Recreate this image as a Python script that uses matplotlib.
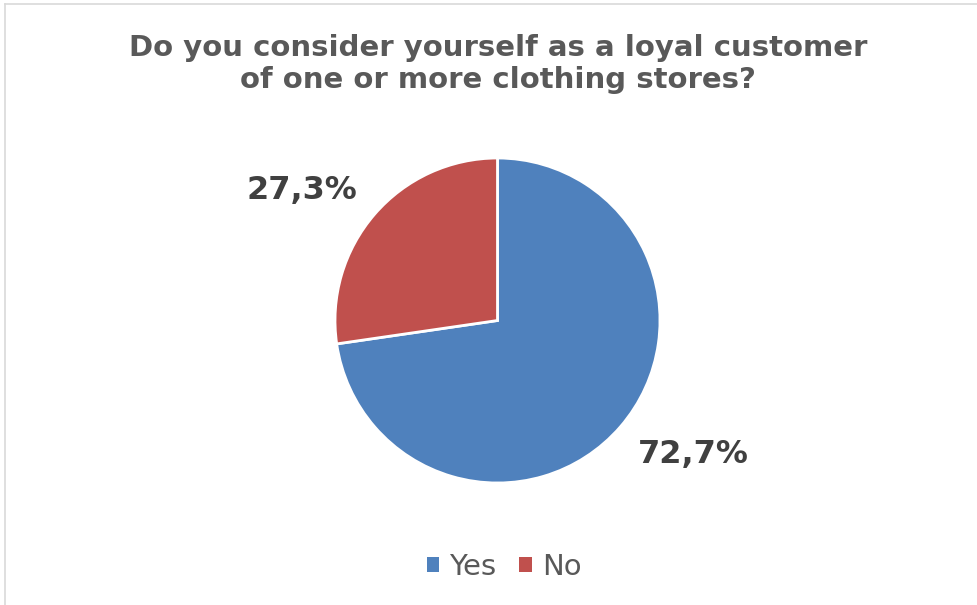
import matplotlib.pyplot as plt
from matplotlib.lines import Line2D
from matplotlib.patches import Patch

labels = ['Yes', 'No']
values = [72.7, 27.3]
colors = ['#4F81BD', '#C0504D']
pct_text = ['72,7%', '27,3%']

W, H = 978, 605
fig = plt.figure(figsize=(W / 100, H / 100), dpi=100)
fig.patch.set_facecolor('white')

# chart border (only top and left visible in the reference)
fig.add_artist(Line2D([5 / W, 1], [1 - 4 / H, 1 - 4 / H], color='#D9D9D9', lw=1.2))
fig.add_artist(Line2D([5 / W, 5 / W], [0, 1 - 4 / H], color='#D9D9D9', lw=1.2))

cx, cy, r = 497.5, 320.5, 162.5
ax = fig.add_axes([(cx - r) / W, (H - cy - r) / H, 2 * r / W, 2 * r / H])
wedges, _ = ax.pie(values, colors=colors, startangle=90, counterclock=False,
                   radius=1, wedgeprops=dict(edgecolor='white', linewidth=2))
ax.set_xlim(-1, 1)
ax.set_ylim(-1, 1)
ax.set_aspect('equal')

# data labels
fig.text(693 / W, 1 - 454 / H, pct_text[0], ha='center', va='center',
         fontsize=23, fontweight='bold', color='#404040')
fig.text(302 / W, 1 - 191 / H, pct_text[1], ha='center', va='center',
         fontsize=23, fontweight='bold', color='#404040')

fig.text(498 / W, 1 - 64 / H,
         'Do you consider yourself as a loyal customer\nof one or more clothing stores?',
         ha='center', va='center', fontsize=21, fontweight='bold',
         color='#595959', linespacing=1.22)

handles = [Patch(facecolor=c, edgecolor='none') for c in colors]
fig.legend(handles, labels, loc='center', bbox_to_anchor=(504 / W, 1 - 567 / H),
           ncol=2, frameon=False, fontsize=21, labelcolor='#595959',
           handlelength=0.42, handleheight=0.42, handletextpad=0.35, columnspacing=0.8)

fig.savefig('out.png', dpi=100, facecolor='white')
